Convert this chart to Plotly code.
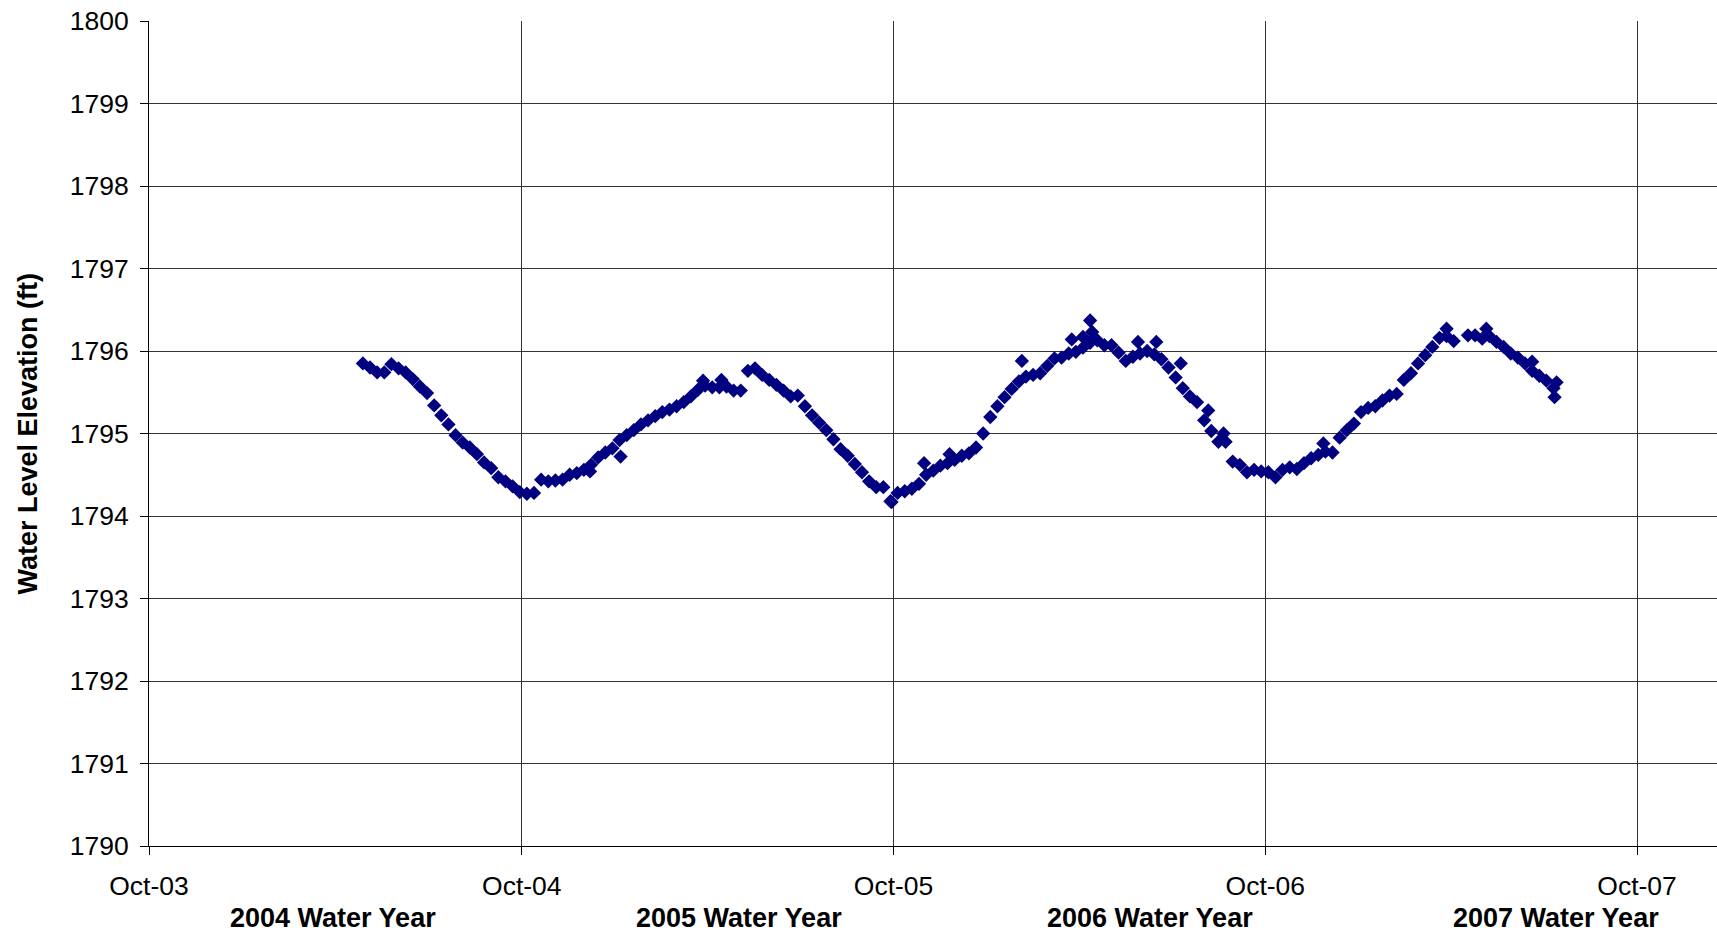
import pandas as pd
import plotly.graph_objects as go

# Weekly readings of water level elevation (ft), starting 2004-04-28
start_date = "2004-04-28"
level = [
    1795.85, 1795.80, 1795.74, 1795.74, 1795.84, 1795.79, 1795.74, 1795.66, 1795.57, 1795.49,
    1795.34, 1795.22, 1795.11, 1794.98, 1794.89, 1794.83, 1794.75, 1794.65, 1794.58, 1794.47,
    1794.42, 1794.36, 1794.29, 1794.27, 1794.28, 1794.44, 1794.42, 1794.43, 1794.44, 1794.50,
    1794.52, 1794.56, 1794.62, 1794.71, 1794.77, 1794.82, 1794.92, 1794.98, 1795.04, 1795.11,
    1795.16, 1795.21, 1795.26, 1795.29, 1795.33, 1795.38, 1795.45, 1795.53, 1795.58, 1795.56,
    1795.56, 1795.57, 1795.52, 1795.52, 1795.76, 1795.79, 1795.71, 1795.65, 1795.59, 1795.52,
    1795.45, 1795.46, 1795.33, 1795.22, 1795.13, 1795.04, 1794.93, 1794.81, 1794.73, 1794.63,
    1794.53, 1794.42, 1794.35, 1794.35, 1794.18, 1794.28, 1794.30, 1794.33, 1794.39, 1794.50,
    1794.55, 1794.61, 1794.64, 1794.68, 1794.73, 1794.76, 1794.83, 1795.00, 1795.20, 1795.33,
    1795.44, 1795.54, 1795.63, 1795.69, 1795.71, 1795.73, 1795.82, 1795.91, 1795.92, 1795.97,
    1795.99, 1796.04, 1796.10, 1796.13, 1796.07, 1796.07, 1795.98, 1795.88, 1795.93, 1795.97,
    1796.00, 1795.96, 1795.90, 1795.80, 1795.68, 1795.55, 1795.45, 1795.38, 1795.16, 1795.03,
    1794.90, 1794.90, 1794.66, 1794.62, 1794.53, 1794.56, 1794.54, 1794.53, 1794.47, 1794.56,
    1794.59, 1794.57, 1794.64, 1794.70, 1794.74, 1794.78, 1794.77, 1794.95, 1795.04, 1795.12,
    1795.26, 1795.31, 1795.33, 1795.40, 1795.46, 1795.48, 1795.65, 1795.73, 1795.85, 1795.95,
    1796.05, 1796.16, 1796.18, 1796.12, None, 1796.19, 1796.19, 1796.15, 1796.18, 1796.11,
    1796.05, 1795.97, 1795.92, 1795.85, 1795.76, 1795.70, 1795.64, 1795.55,
]

# Individual scattered readings off the main band
extra_dates = [
    "2004-12-07", "2005-01-06", "2005-03-28", "2005-04-15", "2005-09-29", "2005-10-31",
    "2005-11-25", "2006-02-04", "2006-03-25", "2006-04-05", "2006-04-12", "2006-04-14",
    "2006-05-29", "2006-06-16", "2006-07-10", "2006-08-06", "2006-08-21", "2006-11-27",
    "2007-03-28", "2007-05-06", "2007-06-20", "2007-07-12", "2007-07-14",
]
extra_level = [
    1794.54, 1794.72, 1795.64, 1795.65, 1794.17, 1794.64,
    1794.75, 1795.88, 1796.14, 1796.17, 1796.37, 1796.23,
    1796.11, 1796.11, 1795.85, 1795.28, 1795.00, 1794.88,
    1796.27, 1796.27, 1795.87, 1795.44, 1795.62,
]

tick_dates = ["2003-10-01", "2004-10-01", "2005-10-01", "2006-10-01", "2007-10-01"]
tick_text = ["Oct-03", "Oct-04", "Oct-05", "Oct-06", "Oct-07"]
water_years = ["2004 Water Year", "2005 Water Year", "2006 Water Year", "2007 Water Year"]
water_year_pos = [0.1173, 0.376, 0.6384, 0.8973]

dates = list(pd.date_range(start_date, periods=len(level), freq="7D")) + list(pd.to_datetime(extra_dates))
values = level + extra_level

FONT = "Liberation Sans, Arial, sans-serif"
NAVY = "#000080"
TICK_SIZE = 26.5
BOLD_SIZE = 27

fig = go.Figure()
fig.add_trace(go.Scatter(
    x=dates, y=values, mode="markers",
    marker=dict(symbol="diamond", size=11, color=NAVY, line=dict(width=0)),
    showlegend=False,
))

fig.update_layout(
    width=1717, height=932,
    margin=dict(l=149, r=0, t=21, b=86),
    paper_bgcolor="white", plot_bgcolor="white",
    font=dict(family=FONT, size=TICK_SIZE, color="black"),
    showlegend=False,
)

fig.update_xaxes(
    type="date",
    range=["2003-10-01", "2007-12-18 12:00"],
    tickvals=tick_dates, ticktext=tick_text,
    ticks="outside", ticklen=8, tickwidth=1, tickcolor="black",
    showgrid=True, gridcolor="#333333", gridwidth=1,
    showline=True, linecolor="black", linewidth=1,
    zeroline=False,
    tickfont=dict(family=FONT, size=TICK_SIZE, color="black"),
    ticklabelstandoff=8,
)
fig.update_yaxes(
    range=[1790, 1800],
    dtick=1, tick0=1790,
    ticks="outside", ticklen=8, tickwidth=1, tickcolor="black",
    showgrid=True, gridcolor="#333333", gridwidth=1,
    showline=True, linecolor="black", linewidth=1,
    zeroline=False,
    tickfont=dict(family=FONT, size=TICK_SIZE, color="black"),
    ticklabelstandoff=6,
)

fig.add_annotation(
    text="<b>Water Level Elevation (ft)</b>", textangle=-90,
    xref="paper", yref="paper", x=-0.0778, y=0.5,
    xanchor="center", yanchor="middle", showarrow=False,
    font=dict(family=FONT, size=BOLD_SIZE, color="black"),
)
for label, px in zip(water_years, water_year_pos):
    fig.add_annotation(
        text=f"<b>{label}</b>",
        xref="paper", yref="paper", x=px, y=0, yshift=-72,
        xanchor="center", yanchor="middle", showarrow=False,
        font=dict(family=FONT, size=BOLD_SIZE, color="black"),
    )

fig.write_html(
    "out.html",
    config={"displayModeBar": False},
    post_script="document.body.style.margin='0';document.body.style.padding='0';document.body.style.overflow='hidden';",
)
